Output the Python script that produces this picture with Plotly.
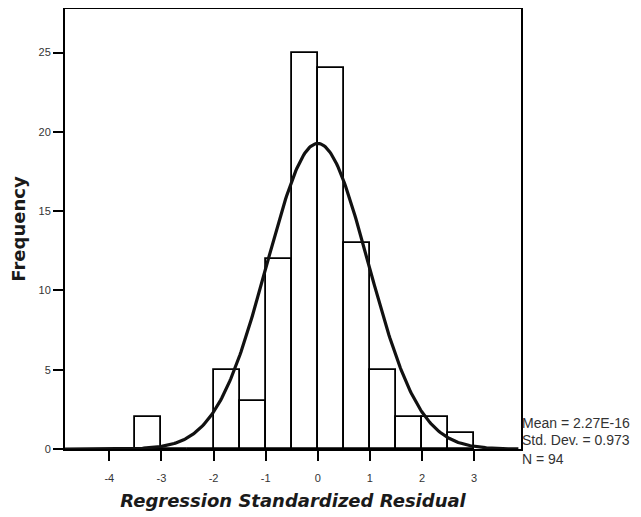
import numpy as np
import plotly.graph_objects as go

# Histogram data (bins of width 0.5)
bin_left = [-3.5, -3.0, -2.5, -2.0, -1.5, -1.0, -0.5, 0.0, 0.5, 1.0, 1.5, 2.0, 2.5]
counts   = [2, 0, 0, 5, 3, 12, 25, 24, 13, 5, 2, 2, 1]
bin_width = 0.5

mean_val = 2.27e-16
std_val = 0.973
n_val = 94

x_ticks = [-4, -3, -2, -1, 0, 1, 2, 3]
y_ticks = [0, 5, 10, 15, 20, 25]

centers = [b + bin_width / 2 for b in bin_left]

# Fitted normal curve defined by the reported statistics
xc = np.linspace(-4.85, 3.85, 400)
yc = n_val * bin_width / (std_val * np.sqrt(2 * np.pi)) * np.exp(-0.5 * ((xc - mean_val) / std_val) ** 2)

fig = go.Figure()
fig.add_trace(go.Bar(
    x=centers, y=counts, width=bin_width,
    marker=dict(color="white", line=dict(color="black", width=1.8)),
    showlegend=False, hoverinfo="skip"))
fig.add_trace(go.Scatter(
    x=xc, y=yc, mode="lines", line=dict(color="#111111", width=3.2),
    showlegend=False, hoverinfo="skip"))

# page body has an 8px default margin; figure sized to fit the 641x517 window
fig.update_layout(
    width=633, height=509,
    margin=dict(l=57, r=120, t=1, b=68, autoexpand=False),
    paper_bgcolor="white", plot_bgcolor="white",
    font=dict(family="Liberation Sans, Arial, sans-serif", color="#222222"),
    bargap=0,
)
fig.update_xaxes(
    range=[-4.85, 3.9], tickvals=x_ticks, ticktext=[str(t) for t in x_ticks],
    showgrid=False, zeroline=False, showline=True, linecolor="black", linewidth=2,
    mirror=True, ticks="outside", ticklen=10, tickwidth=1.5, tickcolor="black",
    ticklabelstandoff=8,
    tickfont=dict(size=11, color="#333333"), automargin=False,
    title=dict(text="<b><i>Regression Standardized Residual</i></b>",
               font=dict(family="DejaVu Sans, sans-serif", size=18, color="#1a1a1a"),
               standoff=11),
)
fig.update_yaxes(
    range=[0, 27.75], tickvals=y_ticks, ticktext=[str(t) for t in y_ticks],
    showgrid=False, zeroline=False, showline=True, linecolor="black", linewidth=2,
    mirror=True, ticks="outside", ticklen=10, tickwidth=1.5, tickcolor="black",
    tickfont=dict(size=11, color="#333333"), automargin=False,
    title=dict(text="<b>Frequency</b>",
               font=dict(family="DejaVu Sans, sans-serif", size=18, color="#1a1a1a"),
               standoff=8),
)

stats_lines = ["Mean = 2.27E-16", f"Std. Dev. = {std_val}", f"N = {n_val}"]
stats_y = [0.059, 0.02, -0.022]
for t, yy in zip(stats_lines, stats_y):
    fig.add_annotation(
        xref="paper", yref="paper", x=1.0, y=yy,
        xanchor="left", yanchor="middle", text=t, showarrow=False,
        font=dict(size=14, color="#333333"), xshift=-1)

fig.write_html("out.html")
